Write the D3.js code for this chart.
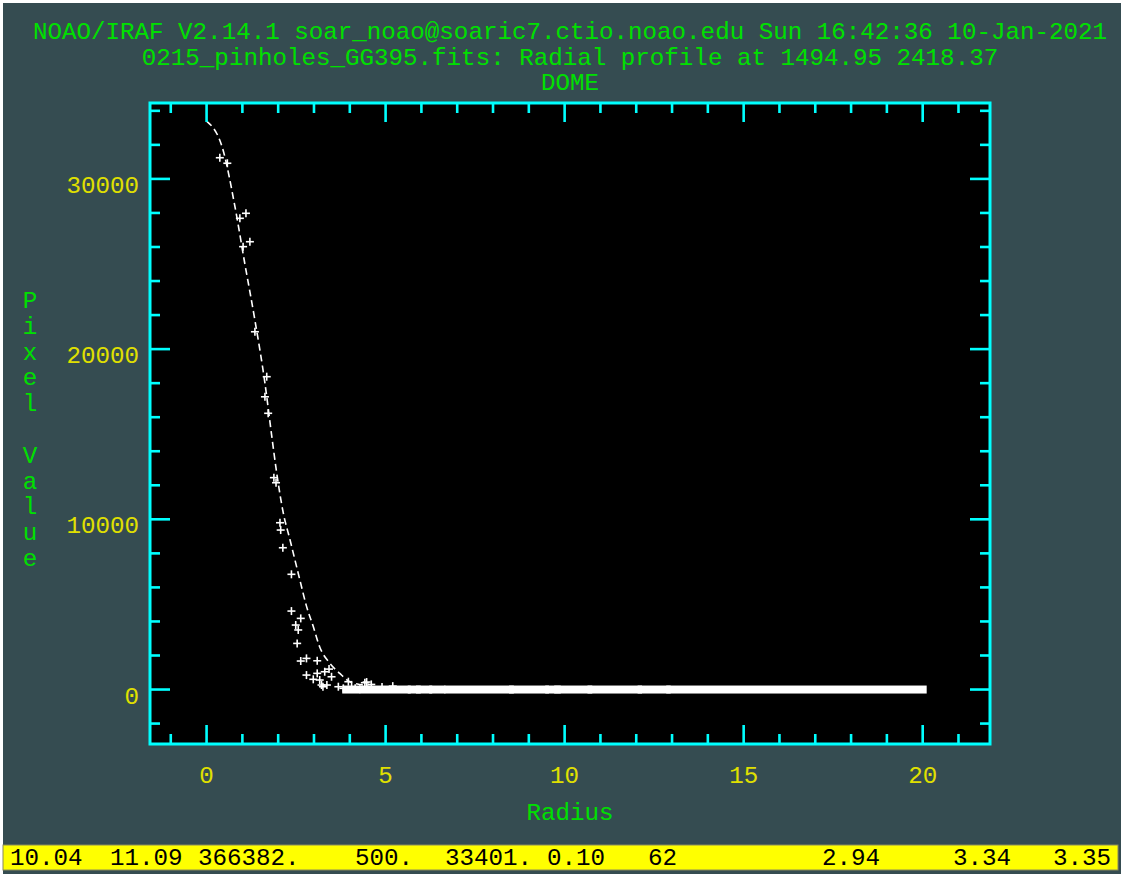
<!DOCTYPE html>
<html>
<head>
<meta charset="utf-8">
<script src="https://cdn.jsdelivr.net/npm/d3@7"></script>
<style>
  html, body { margin: 0; padding: 0; background: #ffffff; }
  svg { display: block; }
  text { font-family: "Liberation Mono", "DejaVu Sans Mono", monospace; }
</style>
</head>
<body>
<div id="chart"></div>
<script>
// title lines (top of the IRAF plot)
const titleLines = [
  "NOAO/IRAF V2.14.1 soar_noao@soaric7.ctio.noao.edu Sun 16:42:36 10-Jan-2021",
  "0215_pinholes_GG395.fits: Radial profile at 1494.95 2418.37",
  "DOME"
];
const xLabel = "Radius";
const yLabel = "Pixel Value";

const xTicks = [0, 5, 10, 15, 20];
const yTicks = [0, 10000, 20000, 30000];

// fitted profile (dashed line)
const fitRadius = [0, 0.46, 0.79, 1.07, 1.35, 1.63, 1.82, 1.96,
  2.14, 2.33, 2.47, 2.61, 2.79, 2.98, 3.16, 3.44, 3.72, 4.00, 4.37, 5.0, 20.0];
const fitValue = [33400, 31700, 28400, 25000, 21700, 18000, 14900, 12700,
  10400, 8800, 7600, 6400, 4900, 3700, 2500, 1550, 950, 460, 260, 60, 0];

// individual pixels (plus markers)
const pointRadius = [0.37, 0.58, 0.93, 1.10, 1.02, 1.21, 1.35, 1.68, 1.63, 1.72, 1.88, 1.94,
  2.05, 2.07, 2.13, 2.37, 2.37, 2.63, 2.49, 2.56, 2.53, 2.63, 2.79, 3.09, 2.79, 2.98, 3.09, 3.16,
  3.30, 3.42, 3.25, 3.36, 3.49, 3.68, 3.82, 3.96, 4.05, 4.15, 4.42, 4.28, 3.21, 4.47, 4.6, 4.9, 5.2];
const pointValue = [31245, 30920, 27685, 27980, 26020, 26310, 21020, 18380, 17200, 16230, 12450, 12150,
  9800, 9370, 8330, 6770, 4610, 4180, 3790, 3500, 2710, 1675, 1830, 1690, 850, 600, 950, 560,
  1045, 1200, 165, 265, 750, 165, 70, 460, 165, 70, 400, 10, 265, 440, 300, 150, 200];

// runs of densely packed near-zero pixels (radius start / end)
const flatRunStart = [3.90, 5.73, 5.96, 6.33, 6.75, 8.56, 9.57, 9.82, 10.75, 12.15, 12.95];
const flatRunEnd   = [5.59, 5.87, 6.19, 6.56, 8.47, 9.45, 9.78, 10.66, 12.05, 12.85, 20.00];
const flatRunValue = 0;

// status line at the bottom
const statusValues = ["10.04", "11.09", "366382.", "500.", "33401.", "0.10", "62", "2.94", "3.34", "3.35"];
const statusX = [10, 110, 198, 355, 445, 547, 648, 822, 953, 1053];

const W = 1121, H = 874;
const frame = { left: 150, top: 103, right: 990, bottom: 744 };
const bg = "#354c51", cyan = "#00ffff", green = "#00e000", yellow = "#e0e000";
const fontSize = 24.2;

const svg = d3.select("#chart").append("svg").attr("width", W).attr("height", H);

svg.append("rect").attr("width", W).attr("height", H).attr("fill", bg);
// thin white edge top/left like the screenshot
svg.append("rect").attr("x", 0).attr("y", 0).attr("width", W).attr("height", 3).attr("fill", "#ffffff");
svg.append("rect").attr("x", 0).attr("y", 0).attr("width", 3).attr("height", H).attr("fill", "#ffffff");

const x = d3.scaleLinear().domain([-1.58, 21.88]).range([frame.left, frame.right]);
const y = d3.scaleLinear().domain([-3200, 34460]).range([frame.bottom, frame.top]);

// plot area
svg.append("rect")
  .attr("x", frame.left).attr("y", frame.top)
  .attr("width", frame.right - frame.left).attr("height", frame.bottom - frame.top)
  .attr("fill", "#000000");

// titles
svg.selectAll(".title").data(titleLines).enter().append("text")
  .attr("class", "title")
  .attr("x", 570)
  .attr("y", (d, i) => 39 + i * 25.5)
  .attr("text-anchor", "middle")
  .attr("font-size", fontSize)
  .attr("fill", green)
  .text(d => d);

// data: flat runs
const g = svg.append("g");
g.selectAll(".run").data(flatRunStart).enter().append("rect")
  .attr("x", (d) => x(d) - 4)
  .attr("y", y(flatRunValue) - 4)
  .attr("width", (d, i) => x(flatRunEnd[i]) - x(d) + 8)
  .attr("height", 8)
  .attr("fill", "#ffffff");

// fit line
const line = d3.line()
  .x((d, i) => x(fitRadius[i]))
  .y((d) => y(d))
  .curve(d3.curveMonotoneX);
g.append("path")
  .attr("d", line(fitValue))
  .attr("fill", "none")
  .attr("stroke", "#ffffff")
  .attr("stroke-width", 1.6)
  .attr("stroke-dasharray", "7,4");

// plus markers
const pts = g.selectAll(".pt").data(pointRadius).enter().append("g")
  .attr("transform", (d, i) => `translate(${x(d)},${y(pointValue[i])})`);
pts.append("line").attr("x1", -4).attr("x2", 4).attr("y1", 0).attr("y2", 0)
  .attr("stroke", "#ffffff").attr("stroke-width", 1.6);
pts.append("line").attr("x1", 0).attr("x2", 0).attr("y1", -4).attr("y2", 4)
  .attr("stroke", "#ffffff").attr("stroke-width", 1.6);

// ticks on all four sides
const xMinor = d3.range(-1, 22, 1).filter(v => xTicks.indexOf(v) < 0);
const yMinor = d3.range(-2000, 34001, 2000).filter(v => yTicks.indexOf(v) < 0);
const ticks = svg.append("g").attr("stroke", cyan).attr("stroke-width", 2.6);

function xTickLines(vals, len) {
  vals.forEach(v => {
    ticks.append("line").attr("x1", x(v)).attr("x2", x(v)).attr("y1", frame.bottom).attr("y2", frame.bottom - len);
    ticks.append("line").attr("x1", x(v)).attr("x2", x(v)).attr("y1", frame.top).attr("y2", frame.top + len);
  });
}
function yTickLines(vals, len) {
  vals.forEach(v => {
    ticks.append("line").attr("y1", y(v)).attr("y2", y(v)).attr("x1", frame.left).attr("x2", frame.left + len);
    ticks.append("line").attr("y1", y(v)).attr("y2", y(v)).attr("x1", frame.right).attr("x2", frame.right - len);
  });
}
xTickLines(xTicks, 19);
xTickLines(xMinor, 10);
yTickLines(yTicks, 20);
yTickLines(yMinor, 10);

// frame
svg.append("rect")
  .attr("x", frame.left).attr("y", frame.top)
  .attr("width", frame.right - frame.left).attr("height", frame.bottom - frame.top)
  .attr("fill", "none").attr("stroke", cyan).attr("stroke-width", 3);

// tick labels
svg.selectAll(".xl").data(xTicks).enter().append("text")
  .attr("x", d => x(d)).attr("y", 783)
  .attr("text-anchor", "middle").attr("font-size", fontSize).attr("fill", yellow)
  .text(d => d);
svg.selectAll(".yl").data(yTicks).enter().append("text")
  .attr("x", 139).attr("y", d => y(d) + 14)
  .attr("text-anchor", "end").attr("font-size", fontSize).attr("fill", yellow)
  .text(d => d);

// axis labels
svg.append("text")
  .attr("x", 570).attr("y", 820)
  .attr("text-anchor", "middle").attr("font-size", fontSize).attr("fill", green)
  .text(xLabel);
svg.selectAll(".ylab").data(yLabel.split("")).enter().append("text")
  .attr("x", 30).attr("y", (d, i) => 308 + i * 25.8)
  .attr("text-anchor", "middle").attr("font-size", fontSize).attr("fill", green)
  .text(d => d);

// status bar
svg.append("rect").attr("x", 3).attr("y", 845).attr("width", 1115).attr("height", 25)
  .attr("fill", "#ffff00").attr("stroke", "#8a8a5a").attr("stroke-width", 1);
svg.selectAll(".st").data(statusValues).enter().append("text")
  .attr("x", (d, i) => statusX[i]).attr("y", 865)
  .attr("font-size", fontSize).attr("fill", "#000000")
  .text(d => d);
</script>
</body>
</html>
